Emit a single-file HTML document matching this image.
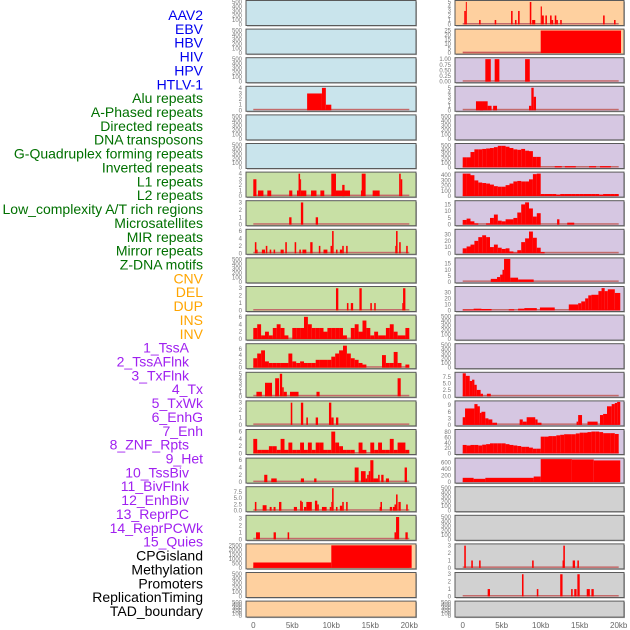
<!DOCTYPE html>
<html><head><meta charset="utf-8">
<style>
html,body{margin:0;padding:0;background:#fff;}
svg{display:block;font-family:"Liberation Sans",sans-serif;}
</style></head>
<body>
<svg id="chart" width="630" height="630" viewBox="0 0 630 630"></svg>
<script>
const trackLabels = ["AAV2","EBV","HBV","HIV","HPV","HTLV-1","Alu repeats","A-Phased repeats","Directed repeats","DNA transposons","G-Quadruplex forming repeats","Inverted repeats","L1 repeats","L2 repeats","Low_complexity A/T rich regions","Microsatellites","MIR repeats","Mirror repeats","Z-DNA motifs","CNV","DEL","DUP","INS","INV","1_TssA","2_TssAFlnk","3_TxFlnk","4_Tx","5_TxWk","6_EnhG","7_Enh","8_ZNF_Rpts","9_Het","10_TssBiv","11_BivFlnk","12_EnhBiv","13_ReprPC","14_ReprPCWk","15_Quies","CPGisland","Methylation","Promoters","ReplicationTiming","TAD_boundary"];
const labelGroups = [6,13,5,15,5];
const xTickValues = [0,5,10,15,20];
const xTickLabels = ["0","5kb","10kb","15kb","20kb"];

// bars as [startKb, endKb, value]
const leftAlu = [[6.9,8.8,3],[8.8,9.3,4],[9.3,10.0,1]];
const leftL1 = [[0,0.4,3],[0.6,1.3,1],[1.8,2.3,1],[4.6,5.0,1],[5.6,5.8,1],[5.8,6.0,4],[6.0,6.1,3],[6.1,6.8,1],[7.4,8.1,1],[8.6,9.1,1],[10.0,10.6,4],[10.6,12.4,1],[11.4,11.7,2],[13.8,13.9,1],[13.9,14.4,4],[15.3,16.2,1],[18.7,18.9,4],[18.9,19.1,3]];
const leftAPhased = [[4.6,4.9,1],[6.1,6.4,3],[8.0,8.3,1]];
const leftL8 = [[0.2,0.4,3],[0.4,0.55,1],[1.1,1.5,1],[1.6,1.8,2],[2.1,2.3,1],[2.6,2.8,1],[3.5,3.9,1],[4.1,4.3,3],[5.3,5.5,3],[5.9,6.1,1],[6.3,6.8,1],[7.3,7.6,3],[8.4,8.6,2],[9.0,9.5,1],[9.9,10.1,2],[10.1,10.3,6],[10.6,10.8,1],[11.1,11.4,1],[11.4,11.6,2],[11.9,12.1,2],[18.2,18.3,2],[18.3,18.5,6],[18.7,18.9,3],[19.6,19.8,2]];
const leftL10 = [[10.6,10.9,3],[12.0,12.2,1],[12.5,12.8,1],[13.6,13.9,3],[15.0,15.2,1],[15.5,15.7,1],[19.1,19.2,1],[19.2,19.5,3]];
const leftL11Bins = [3,4,1,2,1,3,4,3,1,0,3,3,3,6,4,3,3,3,2,3,3,3,3,1,0,3,4,2,5,3,1,2,1,1,3,4,2,1,1,3];
const leftTssABins = [3,4.5,5.5,2,1.5,1.5,1.5,1.5,1.5,4.5,2,1.5,2,1.5,1.5,1.5,2.5,2.5,2.5,2.5,3.5,4.5,5.5,7,4.5,3,2.5,1.5,1,0,0,0,0,4,1.5,1.5,5,1.5,0,1];
const leftTssAFlnk = [[0.4,1.1,1],[1.5,2.4,3],[2.8,3.3,4],[3.4,3.7,5],[3.7,3.9,2],[3.9,4.3,1],[4.7,5.8,1],[8.1,8.5,1],[18.5,18.9,4]];
const leftTxFlnk = [[4.8,5.0,3],[6.1,6.4,3],[6.8,7.0,1],[8.0,8.3,1],[9.7,10.0,3],[10.0,10.3,1],[10.6,10.9,1]];
const leftTxBins = [4,1,1,1,2,2,1,4,1,3,1,1,3,1,3,1,3,3,1,1,6,3,2,1,1,1,0,3,1,0,3,1,3,1,1,4,1,3,3,1];
const leftTxWk = [[1.4,1.8,2],[2.3,3.0,1],[6.1,6.5,1],[7.8,8.1,1],[13.0,13.5,4],[13.8,14.4,3],[14.4,14.6,1],[14.6,14.8,2],[14.8,15.0,3],[15.0,15.4,6],[15.4,16.0,1],[16.0,16.2,2],[16.4,16.7,2],[17.0,17.4,1],[19.4,19.7,4]];
const leftEnhG = [[0.2,0.4,3.5],[1.2,1.7,2.2],[2.1,2.35,1.5],[2.6,2.85,1.5],[3.3,3.6,3.5],[5.2,5.6,1.5],[6.0,6.2,4],[6.2,6.35,3.5],[6.5,6.8,1.5],[6.8,7.5,3.5],[7.9,8.2,4],[8.2,8.4,2.5],[8.8,9.4,1.5],[9.8,10.0,1.5],[10.0,10.1,3.5],[10.1,10.3,9],[10.6,10.8,1.5],[11.1,11.4,2],[11.4,11.6,3.5],[11.9,12.1,3.5],[16.2,16.3,1.5],[16.3,16.5,3.5],[17.5,17.8,1.5],[17.9,18.1,1.5],[18.1,18.3,2.5],[18.3,18.5,6.5],[18.6,18.9,3.5],[19.6,19.8,2.5]];
const leftL18 = [[0.35,0.85,1],[2.6,2.9,1],[4.4,4.6,1],[18.1,18.3,1],[18.3,18.7,3.2],[19.5,19.8,1]];
const leftCpG = [[0,10,600],[10,20.3,2500]];

const rightR0 = [[0.2,0.4,3],[0.4,0.5,5],[2.1,2.3,1],[4.1,4.3,1],[6.2,6.4,3],[6.7,6.9,1],[7.1,7.3,3],[8.6,8.8,5],[8.9,9.3,1],[10.0,10.15,4],[10.15,10.4,2],[10.6,10.8,2],[11.2,11.4,2],[11.4,11.6,1],[11.8,12.0,2],[12.0,12.2,1],[12.5,12.7,1],[18.0,18.2,2],[19.4,19.6,1]];
const rightR1 = [[0,10,0.3],[10,20.3,25]];
const rightR2 = [[2.9,3.6,1],[4.1,4.7,1],[8.0,8.6,1]];
const rightR3 = [[1.7,2.6,2],[2.6,3.2,2],[2.2,2.6,1.2],[3.2,3.7,1],[3.9,4.4,1],[8.5,8.8,1],[8.8,9.1,5],[9.1,9.4,3]];
const rightGQuadBins = [230,230,350,410,410,420,430,440,460,490,490,470,440,410,400,420,380,370,240,240];
const rightGQuadTail = [[11.8,12.7,30],[13.1,14.5,30],[16.2,17.1,30],[17.6,19.0,30]];
const rightL1Bins = [430,430,400,300,260,250,240,220,190,180,180,210,240,280,290,280,280,320,420,430,40,40,40,40,30,40,40,40,40,40,40,40,40,40,40,30,40,40,40,40];
const rightL2Bins = [3.5,4.5,2.5,1,0,0,1,5,7.5,3,2.5,4,4,5,9,15,16.5,12,6,8.5];
const rightL2Tail = [[12.1,12.4,4],[13.4,14.3,1.5]];
const rightLowCBins = [8,11,14,20,26,29,26,10,14,9,7,8,3,1,5,18,24,35,25,9,2];
const rightMicro = [[3.6,4.4,2.5],[4.4,4.8,4],[4.8,5.1,6],[5.1,5.3,10],[5.3,6.1,19],[6.1,7.1,3.5],[7.1,9.1,2]];
const rightMIR = [[0,1.4,1.5],[1.4,2.4,3],[2.4,3.7,2.5],[5.9,6.6,2],[7.1,7.9,3],[7.9,9.5,4],[9.9,11.8,5],[13.6,14.8,10],[14.8,15.2,12],[15.2,15.7,15],[15.7,16.1,20],[16.1,16.5,25],[16.5,17.4,26],[17.4,17.8,32],[17.8,18.2,37],[18.2,18.6,32],[18.6,19.5,35],[19.5,20.2,29]];
const rightTssAFlnk = [[0,0.4,9],[0.4,0.9,8],[0.9,1.2,6],[1.2,1.5,6.5],[1.5,1.8,4.5],[1.8,2.3,2.5],[2.3,2.6,1],[3.1,3.6,1]];
const rightTx = [[0,0.3,3.5],[0.3,1.5,7.5],[1.5,1.9,9.5],[1.9,2.2,8.5],[2.2,2.4,5.5],[2.4,2.9,6],[2.9,3.3,3],[3.3,3.8,2.5],[3.8,4.4,1],[7.3,7.7,2.5],[7.7,8.2,1.5],[8.2,9.3,3.5],[9.3,9.6,2.5],[9.6,10.1,1],[14.6,14.8,1.5],[14.8,15.3,4.5],[16.0,17.3,1.5],[17.6,18.0,4.5],[18.0,18.5,5],[18.5,19.1,8.5],[19.1,19.5,9.5],[19.5,19.8,10],[19.8,20.2,10.5]];
const rightEnhBins = [32,30,32,32,30,33,35,38,38,38,38,35,32,30,28,25,25,22,18,18,63,63,65,65,68,70,72,72,72,75,78,78,80,82,82,80,76,76,76,73];
const rightR16 = [[0,1.4,130],[1.4,2.9,100],[2.9,9.1,130],[9.1,10,170],[10,14.0,700],[14.0,16.8,690],[16.8,20.2,660]];
const rightR19 = [[0.2,0.4,3],[1.1,1.3,1],[2.1,2.3,1],[8.9,9.1,1],[12.8,12.9,1],[12.9,13.1,3],[14.1,14.4,1],[14.7,14.9,1]];
const rightR20 = [[3.2,3.5,1],[7.6,7.8,3],[9.5,9.7,1],[12.5,12.8,3],[13.9,14.1,1],[14.3,14.6,1],[14.7,15.0,3],[15.9,16.3,1],[16.5,16.8,1]];

const T500=[0,100,200,300,400,500];
function binsToBars(arr,start,w){const out=[];arr.forEach((v,i)=>{if(v>0)out.push([start+i*w,start+(i+1)*w,v]);});return out;}
const BG={blue:"#c9e4ec",green:"#c8e0a5",orange:"#fed09f",purple:"#d6c7e2",grey:"#d1d1d1"};
// [col,row,bg,ymax,ticks,tickDecimals,bars]
const panels=[
[0,0,"blue",510,T500,0,null],[0,1,"blue",510,T500,0,null],[0,2,"blue",510,T500,0,null],
[0,3,"blue",4.1,[0,1,2,3,4],0,leftAlu],[0,4,"blue",510,T500,0,null],[0,5,"blue",510,T500,0,null],
[0,6,"green",4.1,[0,1,2,3,4],0,leftL1],[0,7,"green",3.1,[0,1,2,3],0,leftAPhased],
[0,8,"green",6.2,[0,2,4,6],0,leftL8],[0,9,"green",510,T500,0,null],
[0,10,"green",3.1,[0,1,2,3],0,leftL10],[0,11,"green",6.2,[0,2,4,6],0,binsToBars(leftL11Bins,0,0.5)],
[0,12,"green",7.3,[0,2,4,6],0,binsToBars(leftTssABins,0,0.5)],[0,13,"green",5.1,[0,1,2,3,4,5],0,leftTssAFlnk],
[0,14,"green",3.1,[0,1,2,3],0,leftTxFlnk],[0,15,"green",6.3,[0,2,4,6],0,binsToBars(leftTxBins,0,0.5)],
[0,16,"green",6.3,[0,2,4,6],0,leftTxWk],[0,17,"green",9.2,[0,2.5,5,7.5],1,leftEnhG],
[0,18,"green",3.3,[0,1,2,3],0,leftL18],[0,19,"orange",2550,[0,500,1000,1500,2000,2500],0,leftCpG],
[0,20,"orange",510,T500,0,null],[0,21,"orange",510,T500,0,null],
[1,0,"orange",5.1,[0,1,2,3,4,5],0,rightR0],[1,1,"orange",25.5,[0,5,10,15,20,25],0,rightR1],
[1,2,"purple",1.02,[0,0.25,0.5,0.75,1],2,rightR2],[1,3,"purple",5.1,[0,1,2,3,4,5],0,rightR3],
[1,4,"purple",510,T500,0,null],[1,5,"purple",520,T500,0,binsToBars(rightGQuadBins,0,0.5).concat(rightGQuadTail)],
[1,6,"purple",440,[0,100,200,300,400],0,binsToBars(rightL1Bins,0,0.5)],
[1,7,"purple",17,[0,5,10,15],0,binsToBars(rightL2Bins,0,0.5).concat(rightL2Tail)],
[1,8,"purple",37,[0,10,20,30],0,binsToBars(rightLowCBins,0,0.5)],
[1,9,"purple",19,[0,5,10,15],0,rightMicro],[1,10,"purple",38,[0,10,20,30],0,rightMIR],
[1,11,"purple",510,T500,0,null],[1,12,"purple",510,T500,0,null],
[1,13,"purple",9,[0,2.5,5,7.5],1,rightTssAFlnk],[1,14,"purple",10.5,[0,3,6,9],0,rightTx],
[1,15,"purple",86,[0,20,40,60,80],0,binsToBars(rightEnhBins,0,0.5)],
[1,16,"purple",700,[0,200,400,600],0,rightR16],
[1,17,"grey",510,T500,0,null],[1,18,"grey",510,T500,0,null],
[1,19,"grey",3.1,[0,1,2,3],0,rightR19],[1,20,"grey",3.1,[0,1,2,3],0,rightR20],[1,21,"grey",510,T500,0,null]
];

const NS="http://www.w3.org/2000/svg";
const svg=document.getElementById("chart");
function mk(tag,attrs,parent){const e=document.createElementNS(NS,tag);for(const k in attrs)e.setAttribute(k,attrs[k]);(parent||svg).appendChild(e);return e;}
const COLX=[{x0:246,x1:416,z:253.3},{x0:455,x1:624,z:462.7}];
const KB=7.8;
function xs(col,kb){return COLX[col].z+kb*KB;}
function rowTop(r){return 0.5+28.6*r;}
function rowH(r){return r===21?16:25;}

// labels
const labelColors=["#0000ee","#007000","#ffa500","#a020f0","#000000"];
const purpleEnds=[189,189,189,203,203,203,203,189,203,189,189,189,189,203,203];
let li=0;
labelGroups.forEach((n,g)=>{for(let j=0;j<n;j++){
  const y=15+li*13.86;
  const xEnd=g===3?purpleEnds[j]:203;
  const t=mk("text",{x:xEnd,y:y+5,"text-anchor":"end","font-size":"14",fill:labelColors[g]});
  t.textContent=trackLabels[li];
  
  
  li++;}});

panels.forEach(p=>{
  const [col,row,bg,ymax,ticks,dec,bars]=p;
  const top=rowTop(row),h=rowH(row),x0=COLX[col].x0,x1=COLX[col].x1;
  const g=mk("g",{});
  
  
  mk("rect",{x:x0+1,y:top+1,width:x1-x0,height:h,fill:"#aaaaaa"},g);
  const r=mk("rect",{x:x0,y:top,width:x1-x0,height:h,fill:BG[bg],stroke:"#5a5a5a","stroke-width":1},g);
  
  
  const yb=top+h-1, ih=h-2;
  const ys=v=>yb-v/ymax*ih;
  ticks.forEach(tv=>{
    const t=mk("text",{x:x0-4,y:ys(tv)+2,"text-anchor":"end","font-size":"6",fill:"#777"},g);
    t.textContent=tv.toFixed(dec);
    
    
  });
  if(bars){
    const bl=mk("rect",{x:xs(col,0),y:yb-1.5,width:20*KB,height:1.5,fill:"#c46a6a"},g);
    
    
    bars.forEach(b=>{
      const bx=xs(col,b[0]),bw=Math.max(1,xs(col,b[1])-bx);
      const yt=Math.max(top+0.5,ys(b[2]));
      const e=mk("rect",{x:bx,y:yt,width:bw,height:yb-yt,fill:"#ff0000"},g);
      
      
    });
  }
});

[0,1].forEach(col=>{
  xTickValues.forEach((v,i)=>{
    const t=mk("text",{x:xs(col,v),y:628,"text-anchor":"middle","font-size":"8",fill:"#666"});
    t.textContent=xTickLabels[i];
    
    
  });
});
</script>
</body></html>
